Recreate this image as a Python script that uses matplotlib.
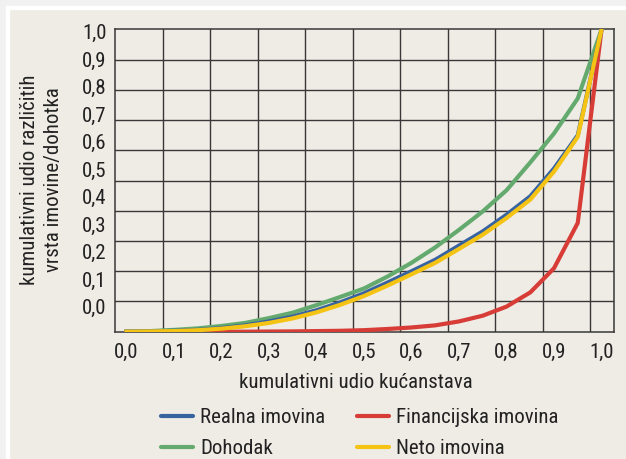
import numpy as np
import matplotlib
matplotlib.use("Agg")
import matplotlib.pyplot as plt
from matplotlib.patches import Rectangle

plt.rcParams['font.family'] = ['Roboto Condensed', 'DejaVu Sans']
plt.rcParams['font.stretch'] = 'condensed'

# cumulative share of households
x_share = [0.0, 0.05, 0.10, 0.15, 0.20, 0.25, 0.30, 0.35, 0.40, 0.45, 0.50,
           0.55, 0.60, 0.65, 0.70, 0.75, 0.80, 0.85, 0.90, 0.95, 1.0]

realna = [0, 0.001, 0.003, 0.006, 0.012, 0.021, 0.034, 0.050, 0.071, 0.097, 0.127,
          0.163, 0.200, 0.238, 0.285, 0.332, 0.387, 0.448, 0.540, 0.650, 1.0]
financijska = [0, 0, 0, 0, 0, 0, 0.0005, 0.001, 0.002, 0.003, 0.005,
               0.009, 0.014, 0.021, 0.034, 0.053, 0.083, 0.130, 0.210, 0.360, 1.0]
dohodak = [0, 0.002, 0.006, 0.011, 0.019, 0.029, 0.045, 0.063, 0.088, 0.115, 0.143,
           0.183, 0.228, 0.279, 0.337, 0.398, 0.468, 0.560, 0.656, 0.772, 1.0]
neto = [0, 0.001, 0.002, 0.005, 0.010, 0.018, 0.029, 0.044, 0.064, 0.089, 0.118,
        0.153, 0.190, 0.228, 0.274, 0.321, 0.376, 0.437, 0.530, 0.645, 1.0]

tick_labels = ["0,0", "0,1", "0,2", "0,3", "0,4", "0,5", "0,6", "0,7", "0,8", "0,9", "1,0"]

BG = "#efece6"
GRID = "#383838"
FS = 15.0

fig = plt.figure(figsize=(6.26, 4.59), dpi=100, facecolor=BG)
W, H = 626, 459

# outer page strips (gray + white)
fig.patches.append(Rectangle((0, 0), 6 / W, 1, transform=fig.transFigure, color="#f1f1f1", zorder=0))
fig.patches.append(Rectangle((0, 1 - 6 / H), 1, 6 / H, transform=fig.transFigure, color="#f1f1f1", zorder=0))
fig.patches.append(Rectangle((6 / W, 0), 2.5 / W, 1 - 6 / H, transform=fig.transFigure, color="white", zorder=0))
fig.patches.append(Rectangle((6 / W, 1 - 9 / H), 1, 3 / H, transform=fig.transFigure, color="white", zorder=0))

ax = fig.add_axes([115 / W, (H - 331.7) / H, 499 / W, 302.2 / H])
ax.set_facecolor(BG)

xmin, xmax = -0.0242, 1.0263
ax.set_xlim(xmin, xmax)
ax.set_ylim(0, 1)

ax.plot(x_share, financijska, color="#d73c37", lw=3.0, label="Financijska imovina", zorder=3)
ax.plot(x_share, dohodak, color="#64aa6e", lw=3.0, label="Dohodak", zorder=3)
ax.plot(x_share, realna, color="#3764a0", lw=3.0, label="Realna imovina", zorder=3)
ax.plot(x_share, neto, color="#f5c314", lw=3.0, label="Neto imovina", zorder=4)

# grid: lines every 0.1 from the spines, labels drawn offset as in the original
ax.set_xticks(np.arange(0, 1.01, 0.1))
ax.set_xticklabels(tick_labels)
ax.set_xticks(xmin + np.arange(1, 11) * 0.1, minor=True)
ax.set_yticks(0.0827 + np.arange(11) * 0.091)
ax.set_yticklabels(tick_labels)
ax.set_yticks(np.arange(1, 10) * 0.1, minor=True)
ax.grid(False, which="major")
ax.grid(True, which="minor", color=GRID, lw=1.0)
ax.tick_params(which="both", length=0, labelsize=FS, colors="#222222")
ax.tick_params(axis="x", pad=8)
ax.tick_params(axis="y", pad=6)
for s in ax.spines.values():
    s.set_color(GRID)
    s.set_linewidth(1.1)

fig.text(356 / W, 1 - 382.7 / H, "kumulativni udio kućanstava", ha="center", va="center",
         fontsize=FS, color="#222222")
fig.text(41.5 / W, 1 - 180 / H, "kumulativni udio različitih\nvrsta imovine/dohotka",
         rotation=90, ha="center", va="center", multialignment="center",
         linespacing=1.35, fontsize=FS, color="#222222")

# ncol=2 fills column by column
h = {l.get_label(): l for l in ax.get_lines()}
order = ["Realna imovina", "Dohodak", "Financijska imovina", "Neto imovina"]
leg = fig.legend([h[k] for k in order], order, loc="upper left",
                 bbox_to_anchor=(161 / W, 1 - 408 / H), ncol=2, frameon=False,
                 fontsize=FS, handlelength=1.55, handletextpad=0.33,
                 columnspacing=1.5, labelspacing=0.6, borderpad=0, borderaxespad=0)
for t in leg.get_texts():
    t.set_color("#222222")
for ln in leg.get_lines():
    ln.set_solid_capstyle("round")
    ln.set_linewidth(3.0)

fig.savefig("out.png", dpi=100, facecolor=BG)
